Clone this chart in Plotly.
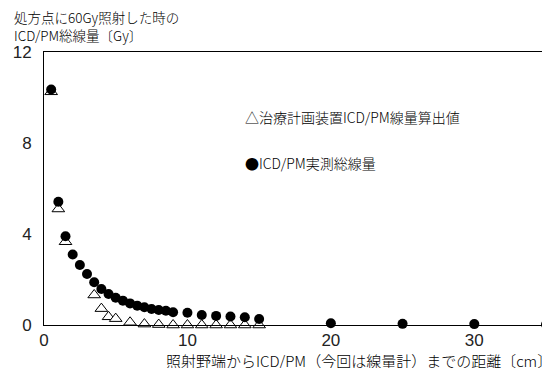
import plotly.graph_objects as go

# Measured total dose (circles)
x_meas = [0.5, 1.0, 1.5, 2.0, 2.5, 3.0, 3.5, 4.0, 4.5, 5.0, 5.5, 6.0, 6.5, 7.0, 7.5, 8.0, 8.5, 9.0,
          10, 11, 12, 13, 14, 15, 20, 25, 30, 35]
y_meas = [10.35, 5.42, 3.9, 3.1, 2.64, 2.24, 1.88, 1.58, 1.36, 1.2, 1.07, 0.95, 0.85, 0.78, 0.70, 0.66, 0.63, 0.56,
          0.54, 0.44, 0.40, 0.37, 0.34, 0.26, 0.08, 0.05, 0.04, 0.02]

# Treatment planning system calculated dose (triangles)
x_calc = [0.5, 1.0, 1.5, 3.5, 4.0, 4.5, 5.0, 6, 7, 8, 9, 10, 11, 12, 13, 14, 15, 20, 25, 30, 35]
y_calc = [10.25, 5.1, 3.66, 1.32, 0.72, 0.36, 0.28, 0.12, 0.04, 0.02, 0.0, 0.0, 0.0, 0.0, 0.0, 0.0, 0.0,
          -0.08, -0.08, -0.08, -0.08]

x_ticks = [0, 10, 20, 30]
y_ticks = [0, 4, 8, 12]

label_calc = "△治療計画装置ICD/PM線量算出値"
label_meas = "●ICD/PM実測総線量"
y_title_1 = "処方点に60Gy照射した時の"
y_title_2 = "ICD/PM総線量〔Gy〕"
x_title = "照射野端からICD/PM（今回は線量計）までの距離〔cm〕"

FONT = "Noto Sans CJK JP"

fig = go.Figure()
fig.add_trace(go.Scatter(
    x=x_calc, y=y_calc, mode="markers", cliponaxis=False,
    marker=dict(symbol="triangle-up", size=11, color="white",
                line=dict(color="black", width=1)),
    showlegend=False))
fig.add_trace(go.Scatter(
    x=x_meas, y=y_meas, mode="markers", cliponaxis=False,
    marker=dict(symbol="circle", size=10, color="black",
                line=dict(color="black", width=0)),
    showlegend=False))

# page body has an 8px default margin, so the figure is offset by 8px
fig.update_layout(
    width=542, height=360,
    margin=dict(l=36, r=4, t=44, b=43, autoexpand=False),
    paper_bgcolor="white", plot_bgcolor="white",
    font=dict(family=FONT, color="black", size=14, weight=300),
    xaxis=dict(range=[0, 35], tickvals=x_ticks, showgrid=False, zeroline=False,
               showline=True, linecolor="black", linewidth=1, mirror=True,
               automargin=False, ticks="", ticklabelstandoff=0,
               tickfont=dict(size=17, family="Liberation Sans", color="#222")),
    yaxis=dict(range=[0, 12], tickvals=y_ticks, showgrid=False, zeroline=False,
               showline=True, linecolor="black", linewidth=1, mirror=True,
               automargin=False, ticks="", ticklabelstandoff=8,
               tickfont=dict(size=17, family="Liberation Sans", color="#222")),
    annotations=[
        dict(text=label_calc, xref="paper", yref="paper", x=0.397, y=0.762,
             xanchor="left", yanchor="middle", showarrow=False, font=dict(size=14)),
        dict(text=label_meas, xref="paper", yref="paper", x=0.397, y=0.593,
             xanchor="left", yanchor="middle", showarrow=False, font=dict(size=14)),
        dict(text=y_title_1 + "<br>" + y_title_2, xref="paper", yref="paper",
             x=-0.064, y=1.095, xanchor="left", yanchor="middle", align="left",
             showarrow=False, font=dict(size=13.5)),
        dict(text=x_title, xref="paper", yref="paper", x=1.016, y=-0.13,
             xanchor="right", yanchor="middle", showarrow=False, font=dict(size=15)),
    ],
)

fig.write_html("out.html")
